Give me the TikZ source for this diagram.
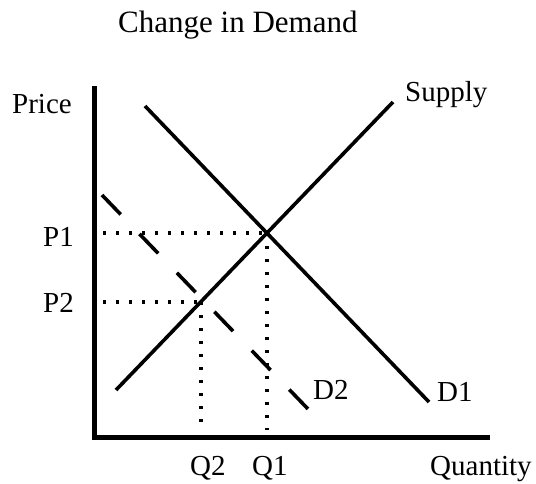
\documentclass[tikz,border=0pt]{standalone}
\usepackage{fontspec}
\setmainfont{Liberation Serif}
\begin{document}
\begin{tikzpicture}[x=1pt,y=-1pt,
  lbl/.style={anchor=base west,inner sep=0pt,font=\fontsize{29}{33}\selectfont},
  axis/.style={line width=5pt},
  curve/.style={line width=3.6pt},
  dcurve/.style={line width=3.6pt,dash pattern=on 27pt off 27pt},
  guide/.style={line width=3.4pt,dash pattern=on 3.4pt off 9.6pt}]
\useasboundingbox (0,0) rectangle (536,483);
% axes
\coordinate (ytop) at (94,86);
\coordinate (orig) at (94,437);
\coordinate (xend) at (490,437);
\draw[axis,line join=miter] (ytop) -- (orig) -- (xend);
% curves
\coordinate (s1) at (116,390);
\coordinate (s2) at (393,102);
\coordinate (d1a) at (145,106);
\coordinate (d1b) at (429,402);
\coordinate (d2a) at (102,195);
\coordinate (d2b) at (308,409);
\draw[curve] (s1) -- (s2);
\draw[curve] (d1a) -- (d1b);
\draw[dcurve] (d2a) -- (d2b);
% guides
\coordinate (e1) at (267,233);
\coordinate (e2) at (201,302);
\coordinate (p1l) at (103,233);
\coordinate (p2l) at (103,302);
\coordinate (q1b) at (267,430);
\coordinate (q2b) at (201,430);
\draw[guide] (p1l) -- (e1);
\draw[guide] (e1) -- (q1b);
\draw[guide] (p2l) -- (e2);
\draw[guide] (e2) -- (q2b);
% labels
\node[lbl,font=\fontsize{31}{35}\selectfont] (title) at (118,32) {Change in Demand};
\node[lbl] (price) at (12,113) {Price};
\node[lbl] (supply) at (405,101) {Supply};
\node[lbl] (p1) at (43,246) {P1};
\node[lbl] (p2) at (43,312) {P2};
\node[lbl] (dd2) at (313,399) {D2};
\node[lbl] (dd1) at (437,401) {D1};
\node[lbl] (q2) at (190,475) {Q2};
\node[lbl] (q1) at (252,475) {Q1};
\node[lbl] (qty) at (430,475) {Quantity};
\end{tikzpicture}
\end{document}
